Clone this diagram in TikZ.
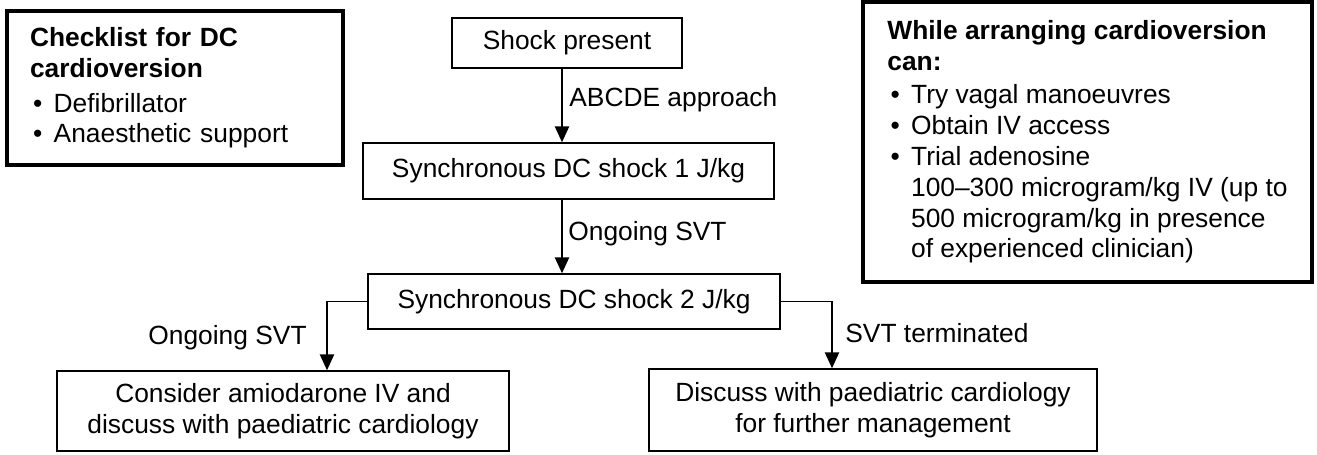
\documentclass[tikz,border=0pt]{standalone}
\usepackage{fontspec}
\setmainfont{Liberation Sans}
\usetikzlibrary{arrows.meta}

\tikzset{
  box/.style={draw, line width=0.85pt, align=center, inner sep=0pt},
  sidebox/.style={draw, line width=2.2pt, align=left, inner sep=0pt},
  arr/.style={line width=1.1pt, -{Triangle[length=9pt,width=8pt]}},
  lbl/.style={inner sep=0pt}
}
\newcommand{\bul}{\hspace*{0.12em}\makebox[0.78em][l]{\textbullet}}
\newcommand{\ind}{\hspace*{0.9em}}

\begin{document}
\begin{tikzpicture}[x=0.02cm, y=-0.02cm, font=\fontsize{15}{17.6}\selectfont]
    \useasboundingbox (0,0) rectangle (1317,454);

    % side boxes
    \node[sidebox, minimum width=6.72cm, minimum height=3.08cm, text width=5.8cm] (check) at (175,88)
      {\textbf{Checklist for DC}\\\textbf{cardioversion}\\[2pt]
       \bul Defibrillator\\
       \bul Anaesthetic support};
    \node[sidebox, minimum width=8.98cm, minimum height=5.6cm] (arrange) at (1087.5,142)
      {\textbf{While arranging cardioversion}\\\textbf{can:}\\[1pt]
       \bul Try vagal manoeuvres\\
       \bul Obtain IV access\\
       \bul Trial adenosine\\
       \ind 100–300 microgram/kg IV (up to\\
       \ind 500 microgram/kg in presence\\
       \ind of experienced clinician)};

    % flow boxes
    \node[box, minimum width=4.6cm, minimum height=1cm] (shock) at (567,43) {Shock present};
    \node[box, minimum width=8.22cm, minimum height=1.12cm] (sync1) at (568.5,171) {Synchronous DC shock 1 J/kg};
    \node[box, minimum width=8.24cm, minimum height=1.1cm] (sync2) at (574,301.5) {Synchronous DC shock 2 J/kg};
    \node[box, minimum width=9.04cm, minimum height=1.6cm] (amio) at (283,411)
      {Consider amiodarone IV and\\discuss with paediatric cardiology};
    \node[box, minimum width=8.96cm, minimum height=1.64cm] (cardio) at (873,410)
      {Discuss with paediatric cardiology\\for further management};

    % arrow lines
    \coordinate (mid) at (562,0);
    \coordinate (lx) at (327,0);
    \coordinate (rx) at (832,0);
    \draw[arr] (shock.south -| mid) -- (sync1.north -| mid);
    \draw[arr] (sync1.south -| mid) -- (sync2.north -| mid);
    \draw[arr] (sync2.west) -| (amio.north -| lx);
    \draw[arr] (sync2.east) -| (cardio.north -| rx);

    % labels
    \node[lbl, anchor=west] (abcde) at (569,100) {ABCDE approach};
    \node[lbl, anchor=west] (ongoing1) at (568,234) {Ongoing SVT};
    \node[lbl, anchor=east] (ongoing2) at (307,338) {Ongoing SVT};
    \node[lbl, anchor=west] (ended) at (845,333) {SVT terminated};

\end{tikzpicture}
\end{document}
